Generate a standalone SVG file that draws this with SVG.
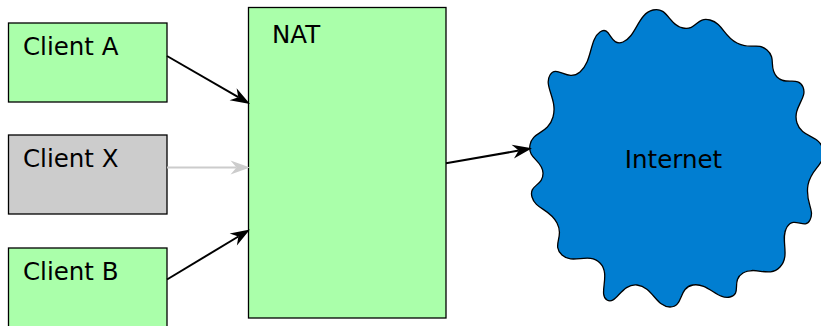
<svg xmlns="http://www.w3.org/2000/svg" width="821" height="326" viewBox="0 0 821 326">
  <style>
    .box { stroke: #000; stroke-width: 1.3; }
    .host { fill: #aaffaa; }
    .down { fill: #cccccc; }
    .lbl { font-family: "DejaVu Sans", "Liberation Sans", sans-serif; font-size: 24.5px; fill: #000; }
    .link { fill: none; stroke: #000; stroke-width: 2; }
    .link.off { stroke: #cccccc; }
  </style>
  <defs>
    <marker id="head" markerUnits="userSpaceOnUse" viewBox="-8 -9 24 18" markerWidth="24" markerHeight="18" refX="0" refY="0" orient="auto">
      <path d="M13.5 0 L-6 -7 L0 0 L-6 7 Z" fill="#000"/>
    </marker>
    <marker id="head-off" markerUnits="userSpaceOnUse" viewBox="-8 -9 24 18" markerWidth="24" markerHeight="18" refX="0" refY="0" orient="auto">
      <path d="M13.5 0 L-6 -7 L0 0 L-6 7 Z" fill="#cccccc"/>
    </marker>
  </defs>

  <g id="client-a">
    <rect class="box host" x="8.5" y="23" width="158.5" height="79"/>
    <text class="lbl" x="23" y="55">Client A</text>
  </g>
  <g id="client-x">
    <rect class="box down" x="8.5" y="135" width="158.5" height="79"/>
    <text class="lbl" x="23" y="167">Client X</text>
  </g>
  <g id="client-b">
    <rect class="box host" x="8.5" y="248" width="158.5" height="90"/>
    <text class="lbl" x="23" y="280">Client B</text>
  </g>
  <g id="nat">
    <rect class="box host" x="248.5" y="7.5" width="197.5" height="310.5"/>
    <text class="lbl" x="272" y="43">NAT</text>
  </g>
  <g id="internet">
    <path class="box" fill="#017ed1" d="M623 42 C636.25 36.5 638 13.5 653 10 C668 6.5 668.75 25.5 683 28 C697.25 30.5 696.5 16.25 710 20 C723.5 23.75 722.75 35.5 737 43 C751.25 50.5 757 41.5 767 50 C777 58.5 768 67.75 777 77 C786 86.25 798 75.5 803 87 C808 98.5 792 107.25 797 123 C802 138.75 820.25 134.5 823 150 C825.75 165.5 811.25 167.5 808 185 C804.75 202.5 815.25 209.5 810 220 C804.75 230.5 794.5 215.25 787 227 C779.5 238.75 791 255.5 780 267 C769 278.5 755.5 265.5 743 273 C730.5 280.5 742.5 294 730 297 C717.5 300 708 282.5 693 285 C678 287.5 684 307 670 307 C656 307 652.75 286.75 637 285 C621.25 283.25 616.25 305.5 607 300 C597.75 294.5 611.25 274.25 600 263 C588.75 251.75 572.75 265 562 255 C551.25 245 564.5 237.5 557 223 C549.5 208.5 535.5 209.5 532 197 C528.5 184.5 543.5 186 543 173 C542.5 160 527.5 159 530 145 C532.5 131 548 134.5 553 117 C558 99.5 543.25 86.25 550 75 C556.75 63.75 567.5 82.75 580 72 C592.5 61.25 589.25 39.5 600 32 C610.75 24.5 609.75 47.5 623 42 Z"/>
    <text class="lbl" x="673.5" y="168" text-anchor="middle">Internet</text>
  </g>

  <g id="connectors">
    <path class="link" d="M167 56 L238.3 97.2" marker-end="url(#head)"/>
    <path class="link off" d="M167 167.5 L236.5 167.5" marker-end="url(#head-off)"/>
    <path class="link" d="M167 279.5 L238.4 236.5" marker-end="url(#head)"/>
    <path class="link" d="M446 163.3 L518.7 150.6" marker-end="url(#head)"/>
  </g>
</svg>
